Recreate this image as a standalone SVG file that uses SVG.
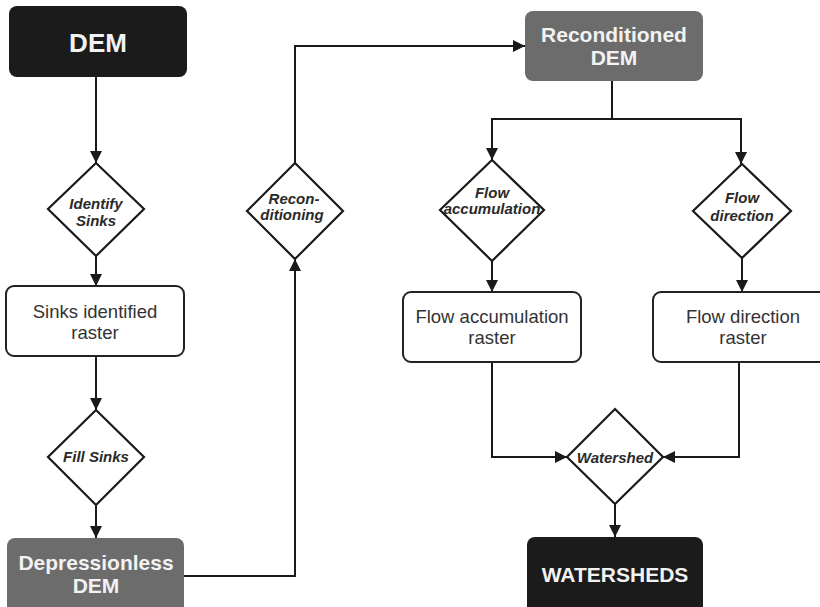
<svg xmlns="http://www.w3.org/2000/svg" width="820" height="607" viewBox="0 0 820 607">
<defs>
<marker id="ah" markerUnits="userSpaceOnUse" markerWidth="12" markerHeight="12" viewBox="0 0 12 12" refX="12" refY="6" orient="auto">
<path d="M0,0 L12,6 L0,12 z" fill="#1a1a1a"/>
</marker>
<style>
.dark{fill:#1b1b1b;}
.gray{fill:#6c6c6c;}
.box{fill:#ffffff;stroke:#222;stroke-width:2;}
.dia{fill:#ffffff;stroke:#1a1a1a;stroke-width:2.2;}
.wt{fill:#f2f2f2;font-family:"Liberation Sans",Arial,sans-serif;font-weight:bold;text-anchor:middle;}
.rt{fill:#333;font-family:"Liberation Sans",Arial,sans-serif;font-size:18.5px;text-anchor:middle;}
.dt{fill:#2a2a2a;font-family:"Liberation Sans",Arial,sans-serif;font-weight:bold;font-style:italic;font-size:15px;text-anchor:middle;}
.ln{fill:none;stroke:#1a1a1a;stroke-width:2;}
</style>
</defs>
<rect width="820" height="607" fill="#ffffff"/>
<g id="connectors">
<path class="ln" d="M96,77 V163" marker-end="url(#ah)"/>
<path class="ln" d="M96,256 V286" marker-end="url(#ah)"/>
<path class="ln" d="M96,356 V410" marker-end="url(#ah)"/>
<path class="ln" d="M96,505 V538" marker-end="url(#ah)"/>
<path class="ln" d="M184,576 H295 V259" marker-end="url(#ah)"/>
<path class="ln" d="M295,163 V46 H525" marker-end="url(#ah)"/>
<path class="ln" d="M612,81 V119"/>
<path class="ln" d="M612,119 H492 V160" marker-end="url(#ah)"/>
<path class="ln" d="M612,119 H741 V164" marker-end="url(#ah)"/>
<path class="ln" d="M492,261 V292" marker-end="url(#ah)"/>
<path class="ln" d="M742,258 V292" marker-end="url(#ah)"/>
<path class="ln" d="M492,362 V457 H567" marker-end="url(#ah)"/>
<path class="ln" d="M739,362 V457 H663" marker-end="url(#ah)"/>
<path class="ln" d="M615,504 V537" marker-end="url(#ah)"/>
</g>
<g id="dem">
<rect class="dark" x="9" y="6" width="178" height="71" rx="8"/>
<text class="wt" x="98" y="52" font-size="26">DEM</text>
</g>
<g id="identify-sinks">
<polygon class="dia" points="96,163 144,209 96,256 48,209"/>
<text class="dt" x="96" y="209">Identify</text>
<text class="dt" x="96" y="226">Sinks</text>
</g>
<g id="sinks-raster">
<rect class="box" x="6" y="286" width="178" height="70" rx="8"/>
<text class="rt" x="95" y="318">Sinks identified</text>
<text class="rt" x="95" y="339">raster</text>
</g>
<g id="fill-sinks">
<polygon class="dia" points="96,410 144,457 96,505 48,457"/>
<text class="dt" x="96" y="462">Fill Sinks</text>
</g>
<g id="depressionless-dem">
<rect class="gray" x="7" y="538" width="177" height="80" rx="8"/>
<text class="wt" x="96" y="570" font-size="21">Depressionless</text>
<text class="wt" x="96" y="593" font-size="21">DEM</text>
</g>
<g id="reconditioning">
<polygon class="dia" points="295,163 343,211 295,259 247,211"/>
<text class="dt" x="294" y="204" font-size="14">Recon-</text>
<text class="dt" x="292" y="220" font-size="14">ditioning</text>
</g>
<g id="reconditioned-dem">
<rect class="gray" x="525" y="11" width="178" height="70" rx="8"/>
<text class="wt" x="614" y="42" font-size="21">Reconditioned</text>
<text class="wt" x="614" y="65" font-size="21">DEM</text>
</g>
<g id="flow-accumulation">
<polygon class="dia" points="492,160 544,210 492,261 440,210"/>
<text class="dt" x="492" y="198" font-size="13">Flow</text>
<text class="dt" x="492" y="214" font-size="13">accumulation</text>
</g>
<g id="flow-direction">
<polygon class="dia" points="742,164 791,211 742,258 693,211"/>
<text class="dt" x="742" y="203">Flow</text>
<text class="dt" x="742" y="221">direction</text>
</g>
<g id="flow-accumulation-raster">
<rect class="box" x="403" y="292" width="178" height="70" rx="8"/>
<text class="rt" x="492" y="323">Flow accumulation</text>
<text class="rt" x="492" y="344">raster</text>
</g>
<g id="flow-direction-raster">
<rect class="box" x="653" y="292" width="178" height="70" rx="8"/>
<text class="rt" x="743" y="323">Flow direction</text>
<text class="rt" x="743" y="344">raster</text>
</g>
<g id="watershed">
<polygon class="dia" points="615,409 663,457 615,504 567,457"/>
<text class="dt" x="615" y="463">Watershed</text>
</g>
<g id="watersheds">
<rect class="dark" x="527" y="537" width="176" height="80" rx="8"/>
<text class="wt" x="615" y="582" font-size="21">WATERSHEDS</text>
</g>
</svg>
